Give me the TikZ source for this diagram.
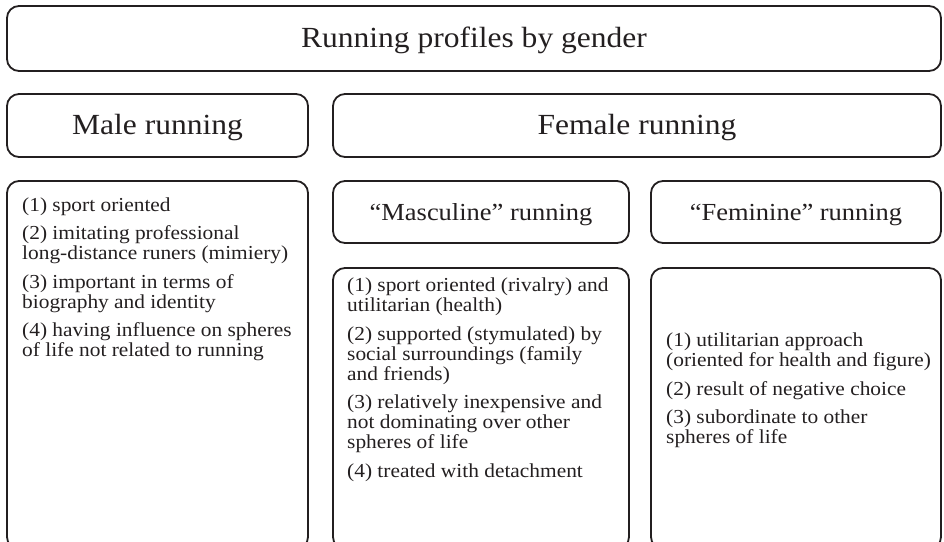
\documentclass[tikz,border=0pt]{standalone}
\usepackage{fontspec}
\setmainfont[FakeStretch=1.08]{Liberation Serif}
\definecolor{ink}{HTML}{231F20}
\begin{document}
\begin{tikzpicture}[x=1pt,y=-1pt,
  box/.style={draw=ink, line width=1.8pt, rounded corners=12pt, rectangle, inner sep=0pt, text=ink},
  headtxt/.style={font=\fontsize{29.2}{32}\selectfont, text height=20.4pt, text depth=1.6pt},
  subtxt/.style={font=\fontsize{24.5}{28}\selectfont, text height=17pt, text depth=0.8pt},
  bodytxt/.style={font=\fontsize{19.8}{20}\selectfont, align=left, anchor=north west, inner sep=0pt, text=ink}]
\clip (0,0) rectangle (944,541);
\node[box, headtxt, minimum width=934pt, minimum height=65pt] (title) at (474,38.5) {Running profiles by gender};
\node[box, headtxt, minimum width=301pt, minimum height=63pt] (male) at (157.5,125.5) {Male running};
\node[box, headtxt, minimum width=608pt, minimum height=63pt] (female) at (637,125.5) {Female running};
\node[box, subtxt, minimum width=296pt, minimum height=62pt] (masc) at (481,212) {“Masculine” running};
\node[box, subtxt, minimum width=290pt, minimum height=62pt] (fem) at (796,212) {“Feminine” running};
\node[box, minimum width=301pt, minimum height=368pt] (malec) at (157.5,365) {};
\node[box, minimum width=296pt, minimum height=281pt] (mascc) at (481,408.5) {};
\node[box, minimum width=290pt, minimum height=281pt] (femc) at (796,408.5) {};
\node[bodytxt] (maletxt) at (22,197.3) {(1) sport oriented\\[8.5pt]
(2) imitating professional\\long-distance runers (mimiery)\\[8.5pt]
(3) important in terms of\\biography and identity\\[8.5pt]
(4) having influence on spheres\\of life not related to running};
\node[bodytxt] (masctxt) at (347,278) {(1) sport oriented (rivalry) and\\utilitarian (health)\\[8.5pt]
(2) supported (stymulated) by\\social surroundings (family\\and friends)\\[8.5pt]
(3) relatively inexpensive and\\not dominating over other\\spheres of life\\[8.5pt]
(4) treated with detachment};
\node[bodytxt] (femtxt) at (666,333) {(1) utilitarian approach\\(oriented for health and figure)\\[8.5pt]
(2) result of negative choice\\[8.5pt]
(3) subordinate to other\\spheres of life};
\end{tikzpicture}
\end{document}
